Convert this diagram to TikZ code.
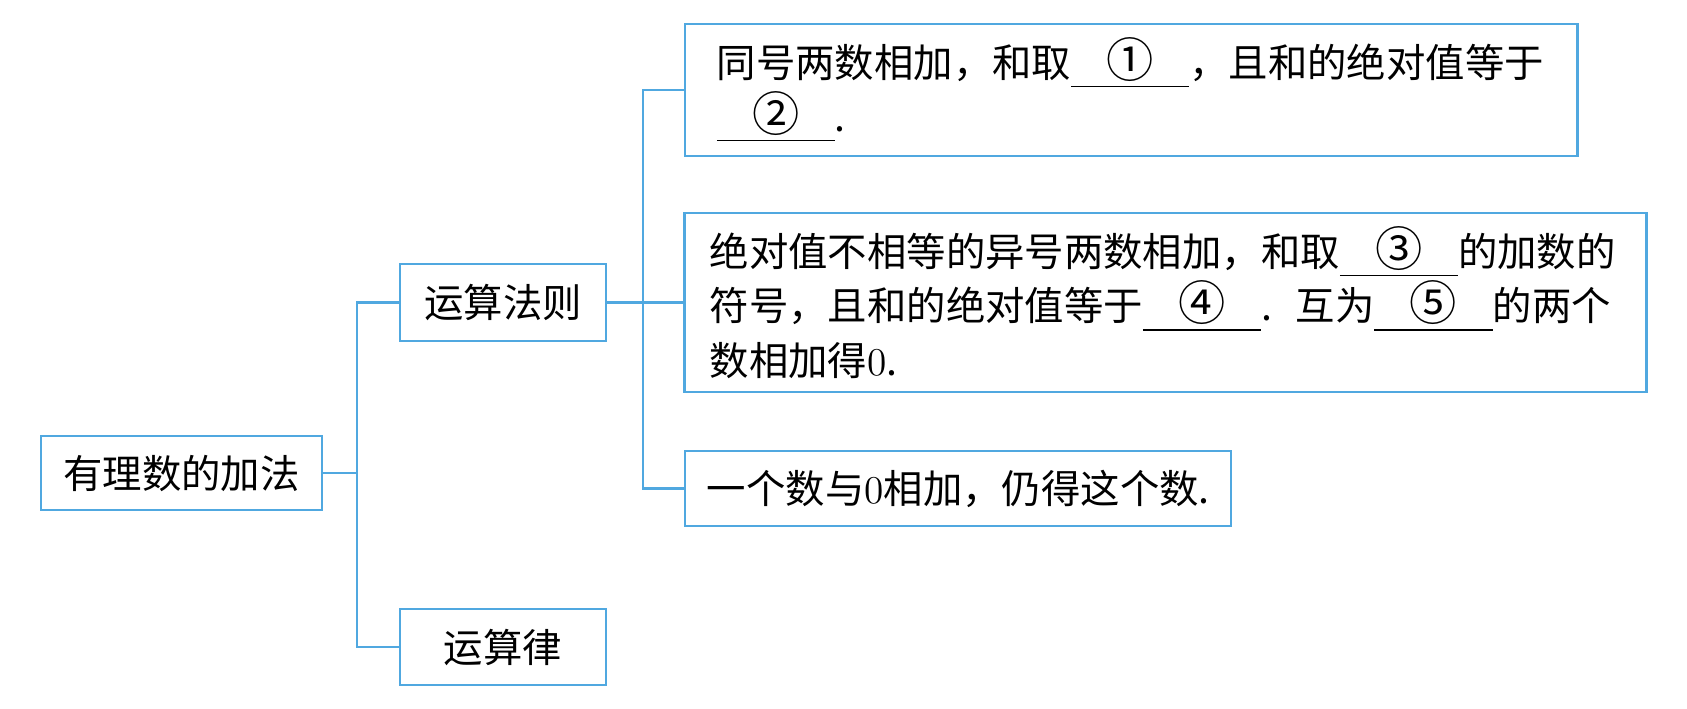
\documentclass[tikz,border=0pt]{standalone}
\usepackage{fontspec}
\newfontfamily\cjk{Noto Sans CJK SC}
\usetikzlibrary{positioning}
\definecolor{lineblue}{RGB}{80,168,224}
\newcommand{\blank}[1]{\underline{\makebox[3em]{\scalebox{1.2}{#1}}}}

\begin{document}
\begin{tikzpicture}[x=0.01cm, y=-0.01cm,
    box/.style={draw=lineblue, line width=0.7pt, inner sep=0pt,
        font=\cjk\fontsize{11.2}{15.4}\selectfont},
    link/.style={lineblue, line width=0.7pt}]
    \useasboundingbox (0, 0) rectangle (1687, 708);

    \node[box, minimum width=2.81cm, minimum height=0.74cm] (root) at (181.5, 473) {有理数的加法};
    \node[box, minimum width=2.06cm, minimum height=0.77cm] (rule) at (503, 302.5) {运算法则};
    \node[box, minimum width=2.06cm, minimum height=0.76cm] (law) at (503, 647) {运算律};

    \node[box, inner xsep=0.32cm, text width=8.28cm, minimum height=1.32cm, align=left] (same) at (1131, 90)
        {同号两数相加，和取\blank{①}，且和的绝对值等于\\\blank{②}.};
    \node[box, inner xsep=0.25cm, text width=9.11cm, minimum height=1.79cm, align=left] (diff) at (1165.5, 302.5)
        {绝对值不相等的异号两数相加，和取\blank{③}的加数的\\
         符号，且和的绝对值等于\blank{④}.\hspace{0.6em}互为\blank{⑤}的两个\\
         数相加得{\rmfamily 0}.};
    \node[box, inner xsep=0.22cm, text width=5.02cm, minimum height=0.75cm, align=left] (zero) at (958, 488.5)
        {一个数与{\rmfamily 0}相加，仍得这个数.};

    \coordinate (j1) at (357, 473);
    \coordinate (j2) at (643, 302.5);

    \draw[link] (root.east) -- (j1);
    \draw[link] (rule.west) -| (j1) |- (law.west);
    \draw[link] (rule.east) -- (diff.west);
    \draw[link] (same.west) -| (j2) |- (zero.west);
\end{tikzpicture}
\end{document}
